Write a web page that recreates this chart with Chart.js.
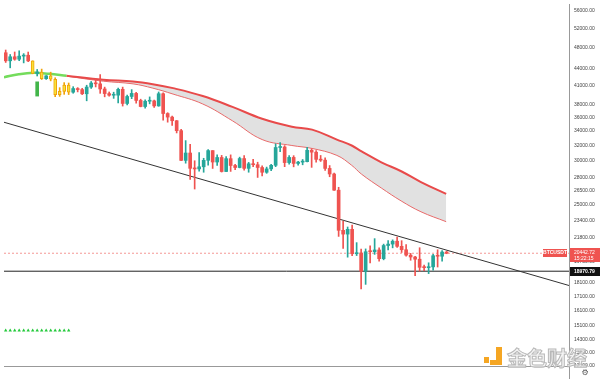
<!DOCTYPE html>
<html><head><meta charset="utf-8">
<script src="https://cdn.jsdelivr.net/npm/chart.js@4.4.0/dist/chart.umd.min.js"></script>
<style>html,body{margin:0;padding:0;background:#fff;overflow:hidden}canvas{display:block}</style>
</head><body>
<canvas id="c" width="600" height="379"></canvas>
<script>
// Daily candles, index 0 = 31 Mar, last = 7 Jul
const opens  = [47063,45511,46283,45811,46407,46580,45497,43170,43444,42252,42753,42158,39530,40074,41147,39942,40551,40378,39678,40801,41493,41358,40480,39709,39441,39450,40426,38112,39235,39742,38596,37630,38468,38525,37728,39690,36552,36013,35472,34038,30076,31017,29103,29030,29287,30086,31328,29874,30444,28716,30296,29446,29200,30310,29098,29655,29542,29201,28629,29031,29468,31734,31801,29805,30452,29700,29864,29919,31373,31125,30204,30109,29091,28424,26574,22487,22136,22583,20401,20468,18970,20574,20573,20723,19987,21110,21237,21492,21039,20743,20281,20124,19942,19279,19252,19316,20231,20190,20548];
const highs  = [47600,46720,47213,47444,46890,47200,45507,43900,43970,42800,43410,42414,40700,41561,41500,40870,40709,40595,41116,41760,42199,42976,40795,39980,39940,40616,40797,39474,40372,39925,38795,38675,39167,38651,39980,39845,36675,36146,35510,34243,32658,32162,30032,31083,30343,31460,31328,30788,30709,30545,30777,29600,30487,30674,29830,30223,29850,29397,29251,29587,32222,32399,31982,30690,30675,29950,30189,31765,31556,31330,30700,30392,29440,28544,26895,23363,22800,22980,21365,20792,20815,21090,21723,20900,21233,21558,21614,21868,21540,21200,20432,20179,20918,19467,19647,20354,20740,20670,20600];
const lows   = [45200,44200,45620,45530,45118,45353,43121,42727,42107,42125,41868,39200,39254,39588,39551,39766,39991,39546,38536,40571,40820,39751,39177,39285,38929,38200,37702,37881,38881,38175,37578,37386,38052,37500,37670,35571,35258,34785,33714,30033,29730,27785,26700,28751,28630,29480,29087,29450,28654,28694,28730,28948,29156,28893,28632,29294,28019,28202,28504,28810,29299,31200,29301,29594,29282,29485,29531,29890,29218,29844,29944,28850,28100,26560,21925,20846,20111,20232,20246,17622,17960,19637,20348,19770,19890,20736,20906,20950,20510,20188,19854,18626,18975,19020,18781,19055,19304,19770,20400];
const closes = [45511,46283,45811,46407,46580,45497,43170,43444,42252,42753,42158,39530,40074,41147,39942,40551,40378,39678,40801,41493,41358,40480,39709,39441,39450,40426,38112,39235,39742,38596,37630,38468,38525,37728,39690,36552,36013,35472,34038,30076,31017,29103,29030,29287,30086,31328,29874,30444,28716,30296,29446,29200,30310,29098,29655,29542,29201,28629,29031,29468,31734,31801,29805,30452,29700,29864,29919,31373,31125,30204,30109,29091,28424,26574,22487,22136,22583,20401,20468,18970,20574,20573,20723,19987,21110,21237,21492,21039,20743,20281,20124,19942,19279,19252,19316,20231,20190,20548,20442];
const highlightIdx = [6,8,10,11,12,13,14];
const signalBarX = [7];
const signalBarLow = [39300];
const signalBarHigh = [41700];

const maX     = [13.5,21.7,28.3,32.7,37.2,43.8,50.4,57.0,63.6,68.1,73.6,76.9,79.1,83.5,87.9,92.3,97.9];
const maUpper = [42770,42070,41760,41300,40620,39310,37570,35760,34600,34180,32800,32000,31220,29840,28750,27480,26160];
const maLower = [42700,41810,41350,40620,39630,38030,35460,32800,32000,31610,30710,29470,28400,26810,25410,24290,23310];
const greenX  = [-0.4,2.9,6.2,9.6,13.5];
const greenMA = [42500,43040,43300,43120,42770];

const trendX = [-0.375,125.2];
const trendY = [35246,17876];
const supportLevel = 18970.79;
const lastPrice = 20442.72;
const countdownText = '15:22:15';
const symbolText = 'BTCUSDT';
const triangleX = [0,1,2,3,4,5,6,7,8,9,10,11,12,13,14];
const triangleLevel = 14820;

const yTicks = [56000,52000,48000,44000,41000,38000,36000,34000,32000,30000,28000,26500,25000,23400,21800,19750,18100,17100,16100,15100,14300,13500,12800];
const xTickPos = [1,11,19,31,39,53,62,74,82,92,102,110,123];
const xTickLabels = ['4月','11','19','5月','9','23','6月','13','21','7月','11','19','8月'];
const xMin = -0.375, xMax = 125.2, yMin = 12790, yMax = 57640;

const RED = '#ef5350', TEAL = '#26a69a', YEL = '#f7e13a', ORG = '#f0a30a';
const idx = opens.map((_, i) => i);
const hl = i => highlightIdx.includes(i);
const up = i => closes[i] >= opens[i];
const bodyColors = idx.map(i => hl(i) ? YEL : (up(i) ? TEAL : RED));
const wickColors = idx.map(i => hl(i) ? ORG : (up(i) ? TEAL : RED));

const FONT = '"Liberation Sans","Noto Sans CJK SC",sans-serif';

const overlay = {
  id: 'overlay',
  afterDraw(chart) {
    const ctx = chart.ctx, ys = chart.scales.y, area = chart.chartArea;
    ctx.save();
    ctx.strokeStyle = '#999'; ctx.lineWidth = 1;
    ctx.beginPath(); ctx.moveTo(area.right + 0.5, area.bottom); ctx.lineTo(area.right + 0.5, 379); ctx.stroke();
    const py = Math.round(ys.getPixelForValue(lastPrice));
    ctx.fillStyle = RED;
    ctx.fillRect(area.right + 1, py - 5, 31, 14);
    ctx.fillRect(area.right - 26, py - 4, 24, 8);
    ctx.fillStyle = '#fff';
    ctx.font = '5px ' + FONT; ctx.textBaseline = 'middle'; ctx.textAlign = 'left';
    ctx.fillText(lastPrice.toFixed(2), area.right + 5, py);
    ctx.fillText(countdownText, area.right + 5, py + 5.5);
    ctx.font = 'bold 5px ' + FONT; ctx.textAlign = 'center';
    ctx.fillText(symbolText, area.right - 14, py);
    const sy = Math.round(ys.getPixelForValue(supportLevel));
    ctx.fillStyle = '#111';
    ctx.fillRect(area.right + 1, sy - 4, 31, 9);
    ctx.fillStyle = '#fff'; ctx.textAlign = 'left'; ctx.font = 'bold 5px ' + FONT;
    ctx.fillText(supportLevel.toFixed(2), area.right + 5, sy + 0.5);
    ctx.fillStyle = '#555'; ctx.font = '8px "DejaVu Sans"'; ctx.textAlign = 'center';
    ctx.fillText('⚙', 585, 373);
    ctx.fillStyle = '#f5a623';
    ctx.fillRect(484, 357, 5, 6);
    ctx.fillRect(496, 347, 6, 18);
    ctx.fillRect(490, 360, 12, 5);
    ctx.font = 'bold 20px "Noto Sans CJK SC"'; ctx.textAlign = 'left'; ctx.textBaseline = 'alphabetic';
    ctx.fillStyle = 'rgba(240,240,240,0.75)';
    ctx.fillText('金色财经', 507, 366);
    ctx.strokeStyle = '#b8b8b8'; ctx.lineWidth = 1;
    ctx.strokeText('金色财经', 507, 366);
    ctx.restore();
  }
};

const noPad = s => { s.paddingLeft = 0; s.paddingRight = 0; s.paddingTop = 0; s.paddingBottom = 0; };

new Chart(document.getElementById('c'), {
  type: 'line',
  data: {
    datasets: [
      { type: 'bar', label: 'body', data: idx.map(i => ({ x: i, y: [opens[i], closes[i]] })),
        backgroundColor: bodyColors, borderColor: idx.map(i => hl(i) ? ORG : 'rgba(0,0,0,0)'),
        borderWidth: idx.map(i => hl(i) ? 1 : 0), borderSkipped: false,
        barThickness: 3, grouped: false, minBarLength: 1, order: 0 },
      { type: 'bar', label: 'wick', data: idx.map(i => ({ x: i, y: [lows[i], highs[i]] })),
        backgroundColor: wickColors, barThickness: 1, grouped: false, order: 1 },
      { type: 'bar', label: 'signal', data: signalBarX.map((x, i) => ({ x, y: [signalBarLow[i], signalBarHigh[i]] })),
        backgroundColor: '#43b54a', barThickness: 3, grouped: false, order: 2 },
      { label: 'maUpper', data: maX.map((x, i) => ({ x, y: maUpper[i] })), borderColor: '#e84a4a', borderWidth: 2,
        pointRadius: 0, tension: 0.4, fill: false, order: 5 },
      { label: 'maLower', data: maX.map((x, i) => ({ x, y: maLower[i] })), borderColor: '#e86a6a', borderWidth: 1,
        pointRadius: 0, tension: 0.4, fill: '-1', backgroundColor: 'rgba(200,200,200,0.55)', order: 6 },
      { label: 'maGreen', data: greenX.map((x, i) => ({ x, y: greenMA[i] })), borderColor: '#74dc5c', borderWidth: 2.5,
        pointRadius: 0, tension: 0.4, fill: false, order: 4 },
      { label: 'trend', data: trendX.map((x, i) => ({ x, y: trendY[i] })), borderColor: '#333', borderWidth: 1,
        pointRadius: 0, fill: false, order: 7 },
      { label: 'support', data: [{ x: xMin, y: supportLevel }, { x: xMax, y: supportLevel }], borderColor: '#222', borderWidth: 1,
        pointRadius: 0, fill: false, order: 8 },
      { label: 'price', data: [{ x: xMin, y: lastPrice }, { x: xMax, y: lastPrice }], borderColor: 'rgba(239,83,80,0.6)', borderWidth: 1,
        borderDash: [2, 2], pointRadius: 0, fill: false, order: 9 },
      { label: 'tri', data: triangleX.map(x => ({ x, y: triangleLevel })), showLine: false, pointStyle: 'triangle',
        pointRadius: 2, pointBackgroundColor: '#22c93a', pointBorderWidth: 0, order: 3 }
    ]
  },
  options: {
    responsive: false, animation: false, devicePixelRatio: 1,
    layout: { padding: 0 },
    plugins: { legend: { display: false }, tooltip: { enabled: false } },
    scales: {
      x: { type: 'linear', min: xMin, max: xMax, offset: false, bounds: 'data',
        grid: { display: false, offset: false }, border: { display: true, color: '#999' },
        ticks: { font: { size: 5, family: FONT }, color: '#444', maxRotation: 0, autoSkip: false, padding: 5,
          callback: v => { const k = xTickPos.indexOf(v); return k >= 0 ? xTickLabels[k] : ''; } },
        afterBuildTicks: s => { s.ticks = xTickPos.map(v => ({ value: v })); },
        afterFit: s => { s.height = 13; noPad(s); } },
      y: { type: 'logarithmic', position: 'right', min: yMin, max: yMax, bounds: 'data', beginAtZero: false,
        grid: { display: false, drawTicks: false }, border: { display: true, color: '#999' },
        ticks: { font: { size: 5, family: FONT }, color: '#444', autoSkip: false, padding: 5,
          callback: v => Number(v).toFixed(2) },
        afterBuildTicks: s => { s.ticks = yTicks.map(v => ({ value: v })); },
        afterFit: s => { s.width = 31; noPad(s); } }
    }
  },
  plugins: [overlay]
});
</script>
</body></html>
